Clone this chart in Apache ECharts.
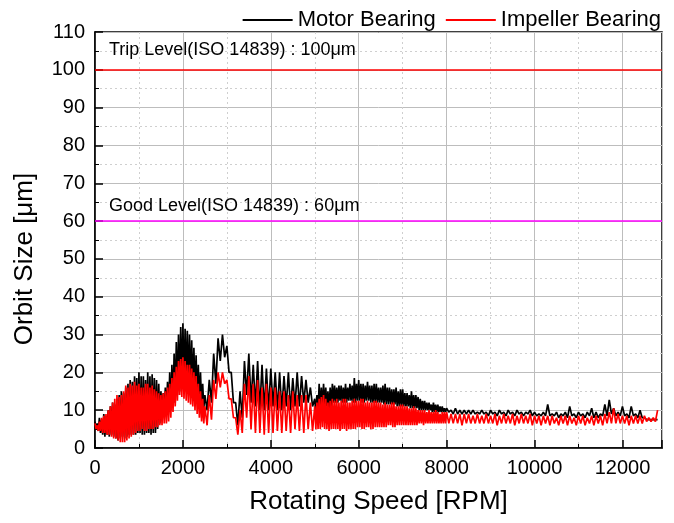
<!DOCTYPE html>
<html>
<head>
    <meta charset="utf-8">
    <script src="https://cdn.jsdelivr.net/npm/echarts@6/dist/echarts.min.js"></script>
    <style>
        body { margin: 0; background: #fff; }
    </style>
</head>
<body>
    <div id="main" style="width: 674px;height:523px;"></div>
	<script type="text/javascript">
        // rpm sample positions, peak / trough read alternately
        // (every 25 rpm where the trace is a dense band, every 50 rpm elsewhere)
        var rpm = [
            0, 25, 50, 75, 100, 125, 150, 175, 200, 225, 250, 275, 300, 325, 350, 375, 400, 425, 450, 475,
            500, 525, 550, 575, 600, 625, 650, 675, 700, 725, 750, 775, 800, 825, 850, 875, 900, 925, 950, 975,
            1000, 1025, 1050, 1075, 1100, 1125, 1150, 1175, 1200, 1225, 1250, 1275, 1300, 1325, 1350, 1375, 1400, 1425, 1450, 1475,
            1500, 1525, 1550, 1575, 1600, 1625, 1650, 1675, 1700, 1725, 1750, 1775, 1800, 1825, 1850, 1875, 1900, 1925, 1950, 1975,
            2000, 2025, 2050, 2075, 2100, 2125, 2150, 2175, 2200, 2225, 2250, 2275, 2300, 2325, 2350, 2375, 2400, 2425, 2450, 2475,
            2500, 2550, 2600, 2650, 2700, 2750, 2800, 2850, 2900, 2950,
            3000, 3050, 3100, 3150, 3200, 3250, 3300, 3350, 3400, 3450, 3500, 3550, 3600, 3650, 3700, 3750, 3800, 3850, 3900, 3950,
            4000, 4050, 4100, 4150, 4200, 4250, 4300, 4350, 4400, 4450, 4500, 4550, 4600, 4650, 4700, 4750, 4800, 4850, 4900, 4950,
            5000, 5025, 5050, 5075, 5100, 5125, 5150, 5175, 5200, 5225, 5250, 5275, 5300, 5325, 5350, 5375, 5400, 5425, 5450, 5475,
            5500, 5525, 5550, 5575, 5600, 5625, 5650, 5675, 5700, 5725, 5750, 5775, 5800, 5825, 5850, 5875, 5900, 5925, 5950, 5975,
            6000, 6025, 6050, 6075, 6100, 6125, 6150, 6175, 6200, 6225, 6250, 6275, 6300, 6325, 6350, 6375, 6400, 6425, 6450, 6475,
            6500, 6525, 6550, 6575, 6600, 6625, 6650, 6675, 6700, 6725, 6750, 6775, 6800, 6825, 6850, 6875, 6900, 6925, 6950, 6975,
            7000, 7025, 7050, 7075, 7100, 7125, 7150, 7175, 7200, 7225, 7250, 7275, 7300, 7325, 7350, 7375, 7400, 7425, 7450, 7475,
            7500, 7525, 7550, 7575, 7600, 7625, 7650, 7675, 7700, 7725, 7750, 7775, 7800, 7825, 7850, 7875, 7900, 7925, 7950, 7975,
            8000, 8050, 8100, 8150, 8200, 8250, 8300, 8350, 8400, 8450, 8500, 8550, 8600, 8650, 8700, 8750, 8800, 8850, 8900, 8950,
            9000, 9050, 9100, 9150, 9200, 9250, 9300, 9350, 9400, 9450, 9500, 9550, 9600, 9650, 9700, 9750, 9800, 9850, 9900, 9950,
            10000, 10050, 10100, 10150, 10200, 10250, 10300, 10350, 10400, 10450, 10500, 10550, 10600, 10650, 10700, 10750, 10800, 10850, 10900, 10950,
            11000, 11050, 11100, 11150, 11200, 11250, 11300, 11350, 11400, 11450, 11500, 11550, 11600, 11650, 11700, 11750, 11800, 11850, 11900, 11950,
            12000, 12050, 12100, 12150, 12200, 12250, 12300, 12350, 12400, 12450, 12500, 12550, 12600, 12650, 12700, 12750,
            12800
        ];

        var motorBearing = [
            7, 5, 6.5, 4.5, 8, 4, 7.5, 3.5, 9, 3, 8.5, 3.5, 10, 3, 11, 3.5, 12, 3, 11.5, 2.5,
            13, 2, 14, 2.5, 15, 3, 14.5, 2.5, 16, 3, 17, 3.5, 18, 3.5, 17.5, 3.5, 19, 3.5, 18.5, 4,
            20, 4, 19, 3.5, 19, 3.5, 18, 4, 20, 4, 19, 3.5, 19.5, 4, 18.5, 4, 18, 5, 17, 6.5,
            15, 8, 14.5, 9, 16, 9, 17.5, 9.5, 20, 10, 22, 11, 25, 12, 28, 14, 30, 15, 32, 16,
            33, 16, 31.5, 16.5, 31, 16, 30, 15.5, 28.5, 15, 26.5, 14, 24.5, 13, 22, 12, 20, 11.5, 17, 10.5,
            14, 10, 18, 12, 25, 17, 29, 23, 30, 24,
            27, 20, 20, 12, 12, 6, 15, 8, 23, 14, 25, 12, 22, 11, 23, 10, 22, 10, 21, 10,
            21, 11, 20, 10, 20, 10, 19, 11, 20, 10, 18.5, 11, 20, 11, 19, 12, 18, 12, 16, 11,
            13, 9, 14, 9.5, 17, 10, 16, 10.5, 17, 11, 16, 11, 15, 10, 16, 11, 17, 12, 16.5, 12,
            16, 12, 16.5, 12.5, 16.5, 12, 16, 12, 17, 12, 16, 12.5, 17, 12.5, 16.5, 12, 18.5, 12, 17, 12.5,
            18, 12.5, 17, 12, 17, 12, 16.5, 12.5, 17.5, 12.5, 16.5, 12, 16.5, 12, 17, 12, 17, 12, 16, 12,
            16, 12, 16.5, 11.5, 17, 11.5, 16, 11.5, 16, 11.5, 15.5, 11.5, 15.5, 11.5, 16, 11, 15, 11, 15.5, 11,
            15.5, 11, 14.5, 11, 14.5, 11, 14, 10.5, 15, 10.5, 14, 10.5, 14, 10.5, 13.5, 10, 13, 10, 12.5, 10,
            12.5, 10, 12, 10, 12, 10, 11.5, 9.5, 12, 9.5, 11.5, 9.5, 11.5, 9.5, 11, 9.5, 11, 9.5, 10.5, 9.5,
            10.5, 9.5, 10, 9, 10.5, 9, 10, 9, 10, 9, 10, 9, 10, 9, 9.5, 9, 10, 9, 9.5, 8.5,
            10, 9, 9.5, 8.5, 10, 9, 9.5, 8.5, 10, 9, 9.5, 8.5, 10, 9, 9.5, 8.5, 9.5, 9, 10, 8.5,
            9.5, 8.5, 9, 8.5, 9.5, 8.5, 11.5, 8.5, 9, 8.5, 9.5, 8, 9, 8.5, 9.5, 8, 11, 8.5, 9, 8,
            9.5, 8.5, 9, 8, 9.5, 8.5, 10.5, 8, 9.5, 8, 9, 8.5, 11.5, 8.5, 12.7, 9, 10.5, 8.5, 9.5, 8.5,
            11, 8.5, 9, 8, 11, 8.5, 9, 8, 10, 8, 8, 7.5, 7.5, 7.5, 7.5, 7.5,
            7.5
        ];

        var impellerBearing = [
            6.5, 5, 6, 4.5, 7, 4.5, 8, 4, 8.5, 4, 9, 3.5, 10, 3.5, 11, 3, 12, 2.5, 13, 2.5,
            14, 2, 13.5, 1.5, 14, 1.5, 15, 1.5, 16.5, 2, 16, 2.5, 17, 3, 16.5, 3.5, 17.5, 4, 16.5, 4.5,
            17, 4.5, 16, 5, 16, 4.5, 17, 4.5, 17, 5, 16, 5, 16.5, 5, 15.5, 5.5, 15, 5.5, 14.5, 6,
            14, 6, 14.5, 6.5, 15, 6.5, 16, 7, 17, 8, 18.5, 9.5, 20, 11, 21.5, 12.5, 23, 14, 23.5, 13.5,
            24, 13, 23, 12.5, 22, 12, 22, 11.5, 21, 11, 20, 10, 19, 9, 17, 8, 15, 7, 13, 6.5,
            11, 6, 14, 7.5, 18, 13, 20, 16, 20, 17,
            18, 13, 13, 8, 8, 3.5, 10, 4, 17, 8, 19, 5, 17, 4, 18, 4, 16, 3.5, 17, 4,
            16, 4, 16, 4.5, 15, 4, 15, 4.5, 14, 4, 15, 5, 14, 4.5, 14, 4, 14, 5, 12, 4.5,
            11, 5, 12, 5, 13, 5, 13.5, 5.5, 14, 5, 13, 5, 12, 4.5, 12.5, 5, 13, 5, 12.5, 5,
            13, 5, 12, 4.5, 12.5, 5, 13, 5, 13, 4.5, 12, 5, 12, 5, 12.5, 5, 13, 5, 12.5, 5.5,
            12.5, 5.5, 13, 5, 13, 5, 12, 5.5, 12.5, 5.5, 12, 5, 12, 5, 12.5, 5.5, 12.5, 5.5, 12, 5.5,
            12, 5.5, 11.5, 5.5, 12, 5.5, 11.5, 6, 11.5, 6, 12, 5.5, 12, 5.5, 11, 6, 11, 6, 11.5, 6,
            11.5, 6, 11, 6, 11, 6, 10.5, 6, 10.5, 6, 11, 6, 10.5, 6, 10, 6.5, 10, 6.5, 10, 6,
            10, 6.5, 9.5, 6.5, 10, 6.5, 9.5, 6.5, 9.5, 6.5, 10, 6.5, 9.5, 6.5, 9, 6.5, 9.5, 6.5, 9.5, 6.5,
            9.5, 6.5, 9, 6.5, 9, 6.5, 9, 6, 9, 6.5, 9, 6.5, 8.5, 6.5, 9, 6.5, 8.5, 6.5, 9, 6.5,
            8.5, 6.5, 9, 6, 8.5, 6.5, 9, 6.5, 8.5, 6.5, 9, 6, 8.5, 6.5, 9, 6.5, 8.5, 6.5, 9, 6,
            8.5, 6.5, 8.5, 6, 8.5, 6.5, 8.5, 6, 8.5, 6.5, 8, 6, 8.5, 6.5, 8.5, 6, 8.5, 6.5, 8, 6,
            8.5, 6.5, 8.5, 6, 8, 6.5, 8.5, 6, 8.5, 6.5, 8.5, 6, 9, 6.5, 9.5, 6.5, 10.5, 6.5, 9, 6.5,
            8.5, 6.5, 8.5, 6, 8.5, 6.5, 8.5, 6.5, 8.5, 6.5, 8.5, 7, 8, 7, 8, 7,
            10
        ];

        var tripLevel = 100;
        var goodLevel = 60;

        function pairs(ys) {
            return ys.map(function (v, i) { return [rpm[i], v]; });
        }

        var font = 'Liberation Sans';
        var myChart = echarts.init(document.getElementById('main'));
        myChart.setOption({
            animation: false,
            backgroundColor: '#fff',
            textStyle: { fontFamily: font },
            legend: {
                right: 8,
                top: 4,
                itemWidth: 50,
                itemHeight: 2,
                itemGap: 10,
                icon: 'rect',
                textStyle: { fontSize: 22, color: '#000', fontFamily: font },
                data: ['Motor Bearing', 'Impeller Bearing']
            },
            grid: {
                left: 95,
                right: 12,
                top: 32,
                bottom: 75,
                show: true,
                borderColor: '#000',
                borderWidth: 1.5
            },
            xAxis: {
                type: 'value',
                min: 0,
                max: 12900,
                interval: 2000,
                name: 'Rotating Speed [RPM]',
                nameLocation: 'middle',
                nameGap: 41,
                nameTextStyle: { fontSize: 26, color: '#000', fontFamily: font },
                axisLine: { lineStyle: { color: '#000', width: 1.5 } },
                axisTick: { inside: true, length: 8, lineStyle: { color: '#000', width: 1.5 } },
                minorTick: { show: true, splitNumber: 2, length: 4, lineStyle: { color: '#000' } },
                axisLabel: {
                    fontSize: 20, color: '#000', margin: 10, showMaxLabel: false,
                    formatter: function (v) { return String(v); }
                },
                splitLine: { show: true, lineStyle: { color: '#bdbdbd', width: 1 } },
                minorSplitLine: { show: true, lineStyle: { color: '#cfcfcf', type: [2, 3] } }
            },
            yAxis: {
                type: 'value',
                min: 0,
                max: 110,
                interval: 10,
                name: 'Orbit Size [μm]',
                nameLocation: 'middle',
                nameGap: 57,
                nameTextStyle: { fontSize: 26, color: '#000', fontFamily: font, padding: [0, 38, 0, 0] },
                axisLine: { lineStyle: { color: '#000', width: 1.5 } },
                axisTick: { inside: true, length: 8, lineStyle: { color: '#000', width: 1.5 } },
                minorTick: { show: true, splitNumber: 2, length: 4, lineStyle: { color: '#000' } },
                axisLabel: { fontSize: 20, color: '#000', margin: 10 },
                splitLine: { show: true, lineStyle: { color: '#bdbdbd', width: 1 } },
                minorSplitLine: { show: true, lineStyle: { color: '#cfcfcf', type: [2, 3] } }
            },
            series: [
                {
                    name: 'Motor Bearing',
                    type: 'line',
                    showSymbol: false,
                    symbol: 'none',
                    color: '#000',
                    lineStyle: { color: '#000', width: 1.7, join: 'bevel' },
                    data: pairs(motorBearing),
                    markLine: {
                        silent: true,
                        symbol: 'none',
                        data: [
                            {
                                yAxis: tripLevel,
                                lineStyle: { color: '#ff0000', width: 1.5, type: 'solid' },
                                label: {
                                    show: true,
                                    position: 'insideStartTop',
                                    distance: [14, 11],
                                    formatter: 'Trip Level(ISO 14839) : 100μm',
                                    color: '#000',
                                    fontSize: 18,
                                    fontFamily: font
                                }
                            },
                            {
                                yAxis: goodLevel,
                                lineStyle: { color: '#ff00ff', width: 1.5, type: 'solid' },
                                label: {
                                    show: true,
                                    position: 'insideStartTop',
                                    distance: [14, 6],
                                    formatter: 'Good Level(ISO 14839) : 60μm',
                                    color: '#000',
                                    fontSize: 18,
                                    fontFamily: font
                                }
                            }
                        ]
                    }
                },
                {
                    name: 'Impeller Bearing',
                    type: 'line',
                    showSymbol: false,
                    symbol: 'none',
                    color: '#ff0000',
                    lineStyle: { color: '#ff0000', width: 1.7, join: 'bevel' },
                    data: pairs(impellerBearing)
                }
            ]
        });
    </script>
</body>
</html>
